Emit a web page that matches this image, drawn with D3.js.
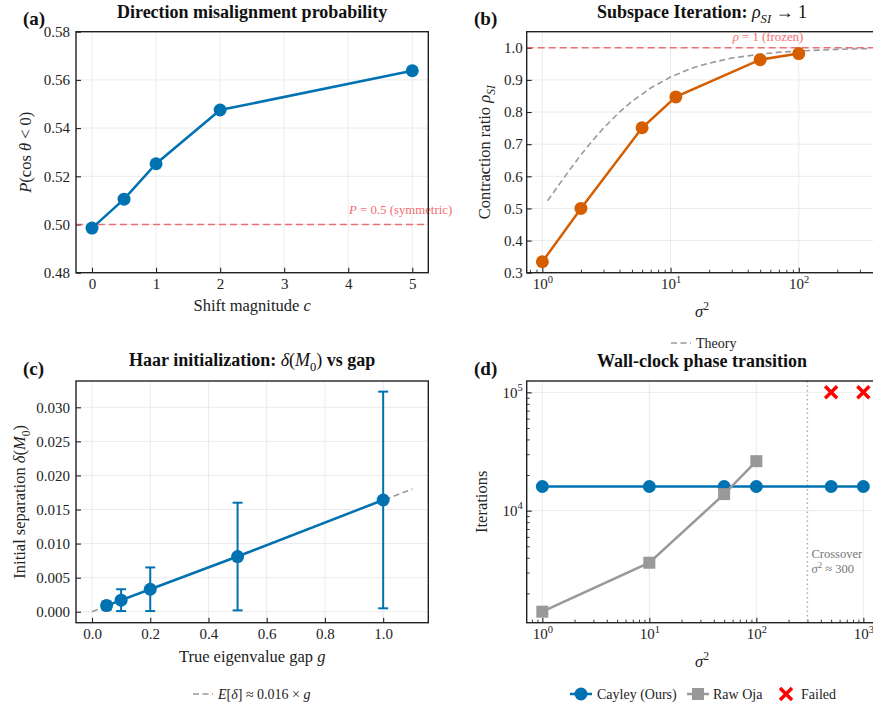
<!DOCTYPE html>
<html>
<head>
<meta charset="utf-8">
<script src="https://cdn.jsdelivr.net/npm/d3@7"></script>
<style>
  body { margin: 0; background: #fff; }
  svg, svg text { font-family: "Liberation Serif", "Times New Roman", serif; }
</style>
</head>
<body>
<svg id="fig" width="873" height="708"></svg>
<script>
// ---- (a) direction misalignment vs shift magnitude
const shiftC = [0, 0.5, 1, 2, 5];
const misalignP = [0.4985, 0.5105, 0.5252, 0.5475, 0.5638];
const symmetricP = 0.5;

// ---- (b) subspace iteration contraction ratio
const siSigma2 = [1, 2, 6, 11, 50, 100];
const siRho = [0.334, 0.500, 0.751, 0.847, 0.963, 0.982];
const theorySigma2 = [1.1, 1.3, 1.6, 2, 2.5, 3, 4, 5, 7, 10, 15, 20, 30, 50, 70, 100, 150, 200, 300, 360];
const theoryRho = [0.524, 0.565, 0.615, 0.667, 0.714, 0.75, 0.80, 0.833, 0.875, 0.909, 0.938, 0.952, 0.968, 0.980, 0.986, 0.990, 0.993, 0.995, 0.997, 0.997];
const frozenRho = 1.0;

// ---- (c) Haar initialization separation vs gap
const gapG = [0.05, 0.1, 0.2, 0.5, 1.0];
const gapDelta = [0.0009, 0.0017, 0.0033, 0.0081, 0.0164];
const gapErr = [0.0006, 0.0016, 0.0032, 0.0079, 0.0159];
const gapFitG = [0, 1.1];
const gapFitDelta = [0, 0.0180];

// ---- (d) wall-clock iterations
const cayleySigma2 = [1, 10, 50, 100, 500, 1000];
const cayleyIters = [16000, 16000, 16000, 16000, 16000, 16000];
const ojaSigma2 = [1, 10, 50, 100];
const ojaIters = [1400, 3630, 13800, 26200];
const failedSigma2 = [500, 1000];
const failedIters = [100000, 100000];
const crossoverSigma2 = 300;

const BLUE = "#0072B2", ORANGE = "#D55E00", GRAY = "#999999", REDLINE = "#e8474a";
const TICK_FS = 15, LABEL_FS = 16.5, TITLE_FS = 18, LEG_FS = 14;
const SERIF = "Liberation Serif, Times New Roman, serif";

const svg = d3.select("#fig");

// write a run of styled pieces into a text element
function rich(text, parts, baseSize) {
  let shift = 0;
  parts.forEach(p => {
    const [str, o = {}] = Array.isArray(p) ? p : [p, {}];
    const ts = text.append("tspan").text(str);
    let target = 0;
    let size = baseSize;
    if (o.sub) { target = 0.28 * baseSize; size = baseSize * 0.7; }
    if (o.sup) { target = -0.42 * baseSize; size = baseSize * 0.7; }
    if (target !== shift) { ts.attr("dy", target - shift); shift = target; }
    ts.attr("font-size", size);
    if (o.i) ts.attr("font-style", "italic");
    if (o.n) ts.attr("font-weight", "normal");
  });
  return text;
}

function supLabel(sel, base, exp, size) {
  sel.text(null);
  sel.append("tspan").text(base);
  sel.append("tspan").attr("dy", -0.45 * size).attr("font-size", size * 0.7).text(exp);
}

function panel(cfg) {
  const { x0, x1, y0, y1, x, y } = cfg;
  const g = svg.append("g");
  // grid
  const grid = g.append("g").attr("stroke", "#e9e9e9").attr("stroke-width", 0.9);
  cfg.xTicks.forEach(v => grid.append("line").attr("x1", x(v)).attr("x2", x(v)).attr("y1", y0).attr("y2", y1));
  cfg.yTicks.forEach(v => grid.append("line").attr("x1", x0).attr("x2", x1).attr("y1", y(v)).attr("y2", y(v)));

  // axes (ticks inward)
  const xa = d3.axisBottom(x).tickValues(cfg.xTicks).tickSizeInner(-5).tickSizeOuter(0).tickPadding(6)
    .tickFormat(cfg.xFmt);
  const ya = d3.axisLeft(y).tickValues(cfg.yTicks).tickSizeInner(-5).tickSizeOuter(0).tickPadding(cfg.yPad || 6)
    .tickFormat(cfg.yFmt);
  const gx = g.append("g").attr("transform", `translate(0,${y1})`).call(xa);
  const gy = g.append("g").attr("transform", `translate(${x0},0)`).call(ya);
  [gx, gy].forEach(a => {
    a.attr("font-family", SERIF).attr("font-size", TICK_FS);
    a.select(".domain").remove();
    a.selectAll("line").attr("stroke", "#222").attr("stroke-width", 1.1);
    a.selectAll("text").attr("font-family", SERIF).attr("font-size", TICK_FS).attr("fill", "#222");
  });
  if (cfg.xLog) gx.selectAll(".tick text").each(function (d) { supLabel(d3.select(this), "10", Math.round(Math.log10(d)), TICK_FS); });
  if (cfg.yLog) gy.selectAll(".tick text").each(function (d) { supLabel(d3.select(this), "10", Math.round(Math.log10(d)), TICK_FS); });
  if (cfg.xMinor) {
    const m = g.append("g").attr("transform", `translate(0,${y1})`)
      .call(d3.axisBottom(x).tickValues(cfg.xMinor).tickSizeInner(-3).tickSizeOuter(0).tickFormat(""));
    m.select(".domain").remove();
    m.selectAll("line").attr("stroke", "#222").attr("stroke-width", 0.9);
  }
  if (cfg.yMinor) {
    const m = g.append("g").attr("transform", `translate(${x0},0)`)
      .call(d3.axisLeft(y).tickValues(cfg.yMinor).tickSizeInner(-3).tickSizeOuter(0).tickFormat(""));
    m.select(".domain").remove();
    m.selectAll("line").attr("stroke", "#222").attr("stroke-width", 0.9);
  }
  const plot = g.append("g");
  // spines
  g.append("rect").attr("x", x0).attr("y", y0).attr("width", x1 - x0).attr("height", y1 - y0)
    .attr("fill", "none").attr("stroke", "#222").attr("stroke-width", 1.4);

  // title and panel letter
  const cx = (x0 + x1) / 2;
  rich(g.append("text").attr("x", cfg.titleX || cx).attr("y", cfg.titleY).attr("text-anchor", "middle")
    .attr("font-weight", "bold").attr("fill", "#111"), cfg.title, TITLE_FS);
  g.append("text").attr("x", cfg.letterX).attr("y", cfg.letterY).attr("font-weight", "bold")
    .attr("font-size", 19).attr("fill", "#111").text(cfg.letter);
  // axis labels
  rich(g.append("text").attr("x", cfg.xLabelX || cx).attr("y", cfg.xLabelY).attr("text-anchor", "middle").attr("fill", "#222"),
    cfg.xLabel, LABEL_FS);
  rich(g.append("text").attr("transform", `translate(${cfg.yLabelX},${(y0 + y1) / 2}) rotate(-90)`)
    .attr("text-anchor", "middle").attr("fill", "#222"), cfg.yLabel, LABEL_FS);
  return plot;
}

function lineOf(xs, ys, x, y) {
  return d3.line().x((d, i) => x(xs[i])).y((d, i) => y(ys[i]))(xs);
}

// ================= (a)
{
  const x0 = 76, x1 = 428.3, y0 = 31.7, y1 = 272.7;
  const x = d3.scaleLinear().domain([-0.25, 5.25]).range([x0, x1]);
  const y = d3.scaleLinear().domain([0.48, 0.58]).range([y1, y0]);
  const p = panel({
    x0, x1, y0, y1, x, y,
    xTicks: [0, 1, 2, 3, 4, 5], yTicks: [0.48, 0.50, 0.52, 0.54, 0.56, 0.58],
    xFmt: d3.format("d"), yFmt: d3.format(".2f"),
    title: ["Direction misalignment probability"], titleY: 18,
    letter: "(a)", letterX: 23, letterY: 25,
    xLabel: ["Shift magnitude ", ["c", { i: 1 }]], xLabelY: 311,
    yLabel: [["P", { i: 1 }], "(cos ", ["θ", { i: 1 }], " < 0)"], yLabelX: 31
  });
  p.append("line").attr("x1", x0).attr("x2", x1).attr("y1", y(symmetricP)).attr("y2", y(symmetricP))
    .attr("stroke", REDLINE).attr("stroke-opacity", 0.75).attr("stroke-width", 1.6).attr("stroke-dasharray", "7,4");
  rich(p.append("text").attr("x", 349).attr("y", y(symmetricP) - 11).attr("fill", "#f26d6f"),
    [["P", { i: 1 }], " = 0.5 (symmetric)"], 12.8);
  p.append("path").attr("d", lineOf(shiftC, misalignP, x, y)).attr("fill", "none")
    .attr("stroke", BLUE).attr("stroke-width", 2.5);
  p.selectAll("circle").data(shiftC).join("circle").attr("cx", d => x(d)).attr("cy", (d, i) => y(misalignP[i]))
    .attr("r", 6.5).attr("fill", BLUE);
}

// ================= (b)
{
  const x0 = 526.7, x1 = 879, y0 = 31.7, y1 = 272.7;
  const x = d3.scaleLog().domain([Math.pow(10, -0.122), Math.pow(10, 2.626)]).range([x0, x1]);
  const y = d3.scaleLinear().domain([0.3, 1.05]).range([y1, y0]);
  const minor = [];
  [0.1, 1, 10, 100].forEach(b => { for (let k = 2; k <= 9; k++) { const v = b * k; if (x(v) > x0 && x(v) < x1) minor.push(v); } });
  const p = panel({
    x0, x1, y0, y1, x, y, xLog: true,
    xTicks: [1, 10, 100], yTicks: [0.3, 0.4, 0.5, 0.6, 0.7, 0.8, 0.9, 1.0], xMinor: minor,
    xFmt: d => d, yFmt: d3.format(".1f"), yPad: 4,
    title: ["Subspace Iteration: ", ["ρ", { i: 1, n: 1 }], ["SI", { i: 1, n: 1, sub: 1 }], [" → 1", { n: 1 }]], titleY: 18,
    titleX: 702,
    letter: "(b)", letterX: 474, letterY: 25,
    xLabel: [["σ", { i: 1 }], ["2", { sup: 1 }]], xLabelX: 702, xLabelY: 317,
    yLabel: ["Contraction ratio ", ["ρ", { i: 1 }], ["SI", { i: 1, sub: 1 }]], yLabelX: 490
  });
  p.append("line").attr("x1", x0).attr("x2", x1).attr("y1", y(frozenRho)).attr("y2", y(frozenRho))
    .attr("stroke", REDLINE).attr("stroke-opacity", 0.75).attr("stroke-width", 1.6).attr("stroke-dasharray", "7,4");
  rich(p.append("text").attr("x", 732.7).attr("y", 41).attr("fill", "#f26d6f"),
    [["ρ", { i: 1 }], " = 1 (frozen)"], 12.8);
  p.append("path").attr("d", lineOf(theorySigma2, theoryRho, x, y)).attr("fill", "none")
    .attr("stroke", GRAY).attr("stroke-width", 1.6).attr("stroke-dasharray", "6,3.5");
  p.append("path").attr("d", lineOf(siSigma2, siRho, x, y)).attr("fill", "none")
    .attr("stroke", ORANGE).attr("stroke-width", 2.5);
  p.selectAll("circle").data(siSigma2).join("circle").attr("cx", d => x(d)).attr("cy", (d, i) => y(siRho[i]))
    .attr("r", 6.5).attr("fill", ORANGE);
  // legend
  const lg = svg.append("g");
  lg.append("line").attr("x1", 671).attr("x2", 691).attr("y1", 343).attr("y2", 343)
    .attr("stroke", GRAY).attr("stroke-width", 1.6).attr("stroke-dasharray", "6,3.5");
  lg.append("text").attr("x", 696).attr("y", 348).attr("font-size", LEG_FS).attr("fill", "#222").text("Theory");
}

// ================= (c)
{
  const x0 = 76, x1 = 428.3, y0 = 381, y1 = 622.7;
  const x = d3.scaleLinear().domain([-0.055, 1.155]).range([x0, x1]);
  const y = d3.scaleLinear().domain([-0.00161, 0.03386]).range([y1, y0]);
  const p = panel({
    x0, x1, y0, y1, x, y,
    xTicks: [0, 0.2, 0.4, 0.6, 0.8, 1.0], yTicks: [0, 0.005, 0.010, 0.015, 0.020, 0.025, 0.030],
    xFmt: d3.format(".1f"), yFmt: d3.format(".3f"),
    title: ["Haar initialization: ", ["δ", { i: 1, n: 1 }], ["(", { n: 1 }], ["M", { i: 1, n: 1 }], ["0", { n: 1, sub: 1 }], [")", { n: 1 }], " vs gap"],
    titleY: 366,
    letter: "(c)", letterX: 23, letterY: 375,
    xLabel: ["True eigenvalue gap ", ["g", { i: 1 }]], xLabelY: 662,
    yLabel: ["Initial separation ", ["δ", { i: 1 }], "(", ["M", { i: 1 }], ["0", { sub: 1 }], ")"], yLabelX: 25
  });
  p.append("path").attr("d", lineOf(gapFitG, gapFitDelta, x, y)).attr("fill", "none")
    .attr("stroke", GRAY).attr("stroke-width", 1.6).attr("stroke-dasharray", "6,3.5");
  const eb = p.append("g").attr("stroke", BLUE).attr("stroke-width", 2);
  gapG.forEach((g, i) => {
    const lo = y(gapDelta[i] - gapErr[i]), hi = y(gapDelta[i] + gapErr[i]);
    eb.append("line").attr("x1", x(g)).attr("x2", x(g)).attr("y1", lo).attr("y2", hi);
    eb.append("line").attr("x1", x(g) - 5).attr("x2", x(g) + 5).attr("y1", lo).attr("y2", lo);
    eb.append("line").attr("x1", x(g) - 5).attr("x2", x(g) + 5).attr("y1", hi).attr("y2", hi);
  });
  p.append("path").attr("d", lineOf(gapG, gapDelta, x, y)).attr("fill", "none")
    .attr("stroke", BLUE).attr("stroke-width", 2.5);
  p.selectAll("circle").data(gapG).join("circle").attr("cx", d => x(d)).attr("cy", (d, i) => y(gapDelta[i]))
    .attr("r", 6.5).attr("fill", BLUE);
  const lg = svg.append("g");
  lg.append("line").attr("x1", 193).attr("x2", 213).attr("y1", 694).attr("y2", 694)
    .attr("stroke", GRAY).attr("stroke-width", 1.6).attr("stroke-dasharray", "6,3.5");
  rich(lg.append("text").attr("x", 218).attr("y", 699).attr("fill", "#222"),
    [["E", { i: 1 }], "[", ["δ", { i: 1 }], "] ≈ 0.016 × ", ["g", { i: 1 }]], LEG_FS);
}

// ================= (d)
{
  const x0 = 526.7, x1 = 879.4, y0 = 381, y1 = 622.7;
  const x = d3.scaleLog().domain([Math.pow(10, -0.146), Math.pow(10, 3.15)]).range([x0, x1]);
  const y = d3.scaleLog().domain([Math.pow(10, 3.053), Math.pow(10, 5.096)]).range([y1, y0]);
  const xMinor = [], yMinor = [];
  [0.1, 1, 10, 100, 1000].forEach(b => { for (let k = 2; k <= 9; k++) { const v = b * k; if (x(v) > x0 && x(v) < x1) xMinor.push(v); } });
  [1000, 10000, 100000].forEach(b => { for (let k = 2; k <= 9; k++) { const v = b * k; if (y(v) < y1 && y(v) > y0) yMinor.push(v); } });
  const p = panel({
    x0, x1, y0, y1, x, y, xLog: true, yLog: true,
    xTicks: [1, 10, 100, 1000], yTicks: [10000, 100000], xMinor, yMinor,
    xFmt: d => d, yFmt: d => d, yPad: 4,
    title: ["Wall-clock phase transition"], titleY: 367, titleX: 702,
    letter: "(d)", letterX: 474, letterY: 375,
    xLabel: [["σ", { i: 1 }], ["2", { sup: 1 }]], xLabelX: 702, xLabelY: 667,
    yLabel: ["Iterations"], yLabelX: 487
  });
  p.append("line").attr("x1", x(crossoverSigma2)).attr("x2", x(crossoverSigma2)).attr("y1", y0).attr("y2", y1)
    .attr("stroke", "#aaaaaa").attr("stroke-width", 1.5).attr("stroke-dasharray", "1.5,3");
  p.append("text").attr("x", 811.5).attr("y", 558).attr("font-size", 12.5).attr("fill", "#777").text("Crossover");
  rich(p.append("text").attr("x", 811.5).attr("y", 573).attr("fill", "#777"),
    [["σ", { i: 1 }], ["2", { sup: 1 }], [" ≈ 300"]], 12.5);
  p.append("path").attr("d", lineOf(cayleySigma2, cayleyIters, x, y)).attr("fill", "none")
    .attr("stroke", BLUE).attr("stroke-width", 2.5);
  p.selectAll("circle").data(cayleySigma2).join("circle").attr("cx", d => x(d)).attr("cy", (d, i) => y(cayleyIters[i]))
    .attr("r", 6.5).attr("fill", BLUE);
  p.append("path").attr("d", lineOf(ojaSigma2, ojaIters, x, y)).attr("fill", "none")
    .attr("stroke", GRAY).attr("stroke-width", 2.5);
  p.selectAll("rect.sq").data(ojaSigma2).join("rect").attr("class", "sq")
    .attr("x", d => x(d) - 6).attr("y", (d, i) => y(ojaIters[i]) - 6).attr("width", 12).attr("height", 12).attr("fill", GRAY);
  const cross = (sel, cx, cy, s) => {
    sel.append("path").attr("d", `M${cx - s},${cy - s}L${cx + s},${cy + s}M${cx - s},${cy + s}L${cx + s},${cy - s}`)
      .attr("stroke", "#ff0000").attr("stroke-width", 3.5).attr("fill", "none");
  };
  failedSigma2.forEach((s, i) => cross(p, x(s), y(failedIters[i]), 6));

  // legend
  const lg = svg.append("g");
  lg.append("line").attr("x1", 570).attr("x2", 592).attr("y1", 694).attr("y2", 694).attr("stroke", BLUE).attr("stroke-width", 2.5);
  lg.append("circle").attr("cx", 581).attr("cy", 694).attr("r", 6.5).attr("fill", BLUE);
  lg.append("text").attr("x", 597).attr("y", 699).attr("font-size", LEG_FS).attr("fill", "#222").text("Cayley (Ours)");
  lg.append("line").attr("x1", 687).attr("x2", 709).attr("y1", 694).attr("y2", 694).attr("stroke", GRAY).attr("stroke-width", 2.5);
  lg.append("rect").attr("x", 692).attr("y", 688).attr("width", 12).attr("height", 12).attr("fill", GRAY);
  lg.append("text").attr("x", 713).attr("y", 699).attr("font-size", LEG_FS).attr("fill", "#222").text("Raw Oja");
  cross(lg, 786, 694, 6);
  lg.append("text").attr("x", 801).attr("y", 699).attr("font-size", LEG_FS).attr("fill", "#222").text("Failed");
}
</script>
</body>
</html>
